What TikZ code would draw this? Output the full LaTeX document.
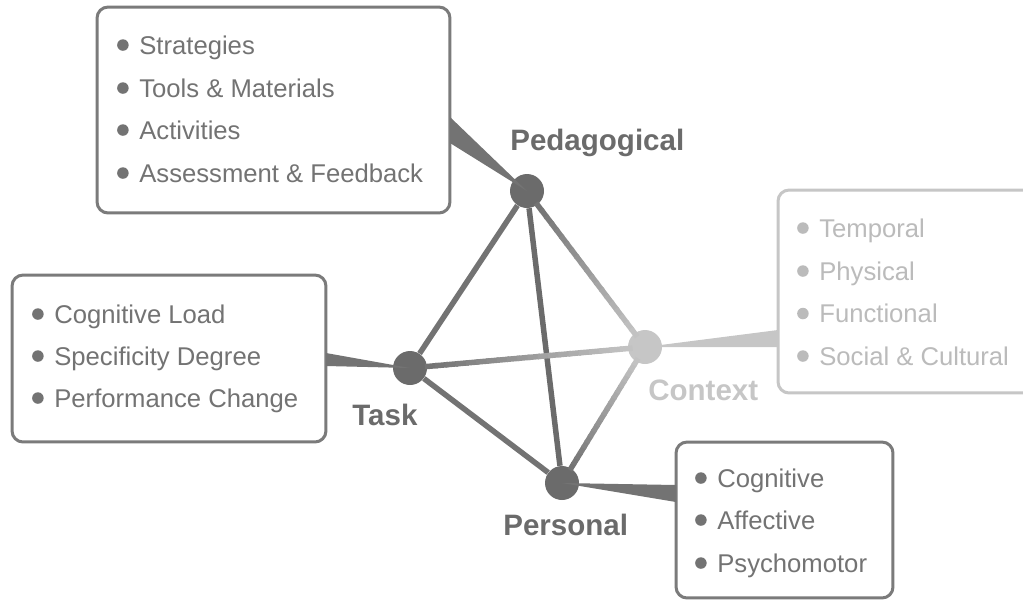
\documentclass[tikz,border=0pt]{standalone}
\usepackage{fontspec}
\setmainfont{Liberation Sans}
\usetikzlibrary{calc}

\definecolor{dotgray}{HTML}{6B6B6B}
\definecolor{ctxgray}{HTML}{C6C6C6}
\definecolor{linegray}{HTML}{737373}
\definecolor{framegray}{HTML}{7B7B7B}
\definecolor{textgray}{HTML}{737373}
\definecolor{ctxtext}{HTML}{BBBBBB}

\begin{document}
\begin{tikzpicture}[x=0.02cm, y=-0.02cm,
        dot_style/.style={circle, fill=dotgray, minimum size=0.68cm, inner sep=0pt},
        ctx_dot_style/.style={dot_style, fill=ctxgray},
        box_style/.style={draw=framegray, line width=0.06cm, rounded corners=0.22cm, fill=white, inner sep=0pt},
        ctx_box_style/.style={box_style, draw=ctxgray},
        bullet_style/.style={circle, fill=#1, minimum size=0.23cm, inner sep=0pt},
        item_style/.style={anchor=base west, inner sep=0pt, text=#1, font=\fontsize{14.6}{17}\selectfont,
            text height=13.1pt, text depth=2.9pt, label={[bullet_style=#1, label distance=0.2cm]left:{}}},
        item_style/.default=textgray,
        title_style/.style={anchor=base west, inner sep=0pt, text=#1, font=\bfseries\fontsize{16.8}{20}\selectfont},
        title_style/.default=dotgray,
        edge_style/.style={draw=linegray, line width=0.11cm},
        wedge_style/.style={fill=#1}]

        \useasboundingbox (0,0) rectangle (1023,599);

        % boxes
        \node[box_style, minimum width=7.06cm, minimum height=4.12cm] (ped_box) at (273.5,110) {};
        \node[box_style, minimum width=6.28cm, minimum height=3.34cm] (task_box) at (169,358.5) {};
        \node[ctx_box_style, minimum width=5.24cm, minimum height=4.06cm] (ctx_box) at (909,291.5) {};
        \node[box_style, minimum width=4.34cm, minimum height=3.12cm] (pers_box) at (784.5,520) {};

        % dimensions
        \node[dot_style] (ped) at (527,191) {};
        \node[dot_style] (task) at (410,368) {};
        \node[ctx_dot_style] (ctx) at (645,347) {};
        \node[dot_style] (pers) at (562,483) {};

        \node[title_style] (ped_label) at (510,150) {Pedagogical};
        \node[title_style] (task_label) at (352,425) {Task};
        \node[title_style=ctxgray] (ctx_label) at (648,400) {Context};
        \node[title_style] (pers_label) at (503,535) {Personal};

        % items
        \node[item_style] (ped_i1) at (139,54) {Strategies};
        \node[item_style] (ped_i2) at (139,97) {Tools \& Materials};
        \node[item_style] (ped_i3) at (139,139) {Activities};
        \node[item_style] (ped_i4) at (139,182) {Assessment \& Feedback};

        \node[item_style] (task_i1) at (54,323) {Cognitive Load};
        \node[item_style] (task_i2) at (54,365) {Specificity Degree};
        \node[item_style] (task_i3) at (54,407) {Performance Change};

        \node[item_style=ctxtext] (ctx_i1) at (819,237) {Temporal};
        \node[item_style=ctxtext] (ctx_i2) at (819,280) {Physical};
        \node[item_style=ctxtext] (ctx_i3) at (819,322.5) {Functional};
        \node[item_style=ctxtext] (ctx_i4) at (819,365) {Social \& Cultural};

        \node[item_style] (pers_i1) at (717,487) {Cognitive};
        \node[item_style] (pers_i2) at (717,529) {Affective};
        \node[item_style] (pers_i3) at (717,572) {Psychomotor};

        % links between dimensions
        \draw[edge_style] (ped) -- (task);
        \draw[edge_style, draw=dotgray] (ped) -- (pers);
        \draw[edge_style] (task) -- (pers);
        \foreach \a in {ped, task, pers} {
            \path ($(\a.center)!0.3cm!(ctx.center)$) coordinate (\a_s)
                  ($(ctx.center)!0.3cm!(\a.center)$) coordinate (\a_e);
            \foreach \i [evaluate=\i as \j using \i+1.25, evaluate=\i as \m using int(5*\i)] in {0,...,19}
                \draw[edge_style, draw=ctxgray!\m!linegray] ($(\a_s)!\i/20!(\a_e)$) -- ($(\a_s)!\j/20!(\a_e)$);
        }

        % wedges to the boxes
        \coordinate (ped_w1) at (450,117);
        \coordinate (ped_w2) at (450,143);
        \coordinate (task_w1) at (326,353);
        \coordinate (task_w2) at (326,366);
        \coordinate (ctx_w1) at (778,330);
        \coordinate (ctx_w2) at (778,347);
        \coordinate (pers_w1) at (676,485);
        \coordinate (pers_w2) at (676,502);
        \fill[wedge_style=linegray] (ped.center) -- (ped_w1) -- (ped_w2) -- cycle;
        \fill[wedge_style=linegray] (task.center) -- (task_w1) -- (task_w2) -- cycle;
        \fill[wedge_style=ctxgray] (ctx.center) -- (ctx_w1) -- (ctx_w2) -- cycle;
        \fill[wedge_style=linegray] (pers.center) -- (pers_w1) -- (pers_w2) -- cycle;
\end{tikzpicture}
\end{document}
